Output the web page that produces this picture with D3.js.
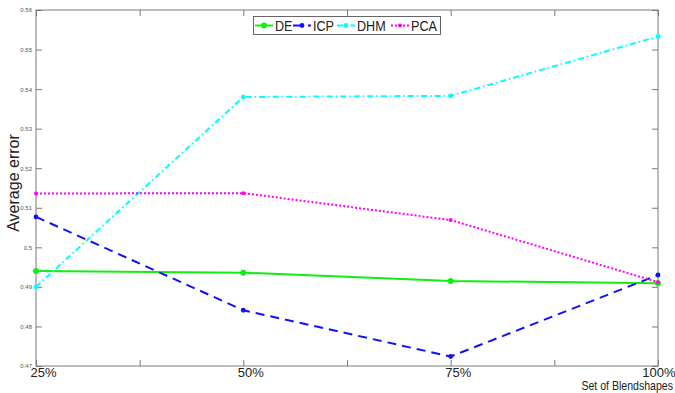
<!DOCTYPE html>
<html>
<head>
<meta charset="utf-8">
<script src="https://cdn.jsdelivr.net/npm/d3@7"></script>
<style>
  html, body { margin: 0; padding: 0; background: #fff; }
  svg { display: block; font-family: "Liberation Sans", Arial, Helvetica, sans-serif; }
</style>
</head>
<body>
<svg id="chart" width="675" height="393"></svg>
<script>
// Average error per blendshape set size, one series per method
const categories = ["25%", "50%", "75%", "100%"];
const xTickValues = [1, 1.5, 2, 2.5, 3, 3.5, 4];
const yTickValues = [0.47, 0.48, 0.49, 0.5, 0.51, 0.52, 0.53, 0.54, 0.55, 0.56];
const yTickLabels = ["0.47", "0.48", "0.49", "0.5", "0.51", "0.52", "0.53", "0.54", "0.55", "0.56"];

const seriesNames = ["DE", "ICP", "DHM", "PCA"];
const deValues  = [0.4940, 0.4936, 0.4915, 0.4909];
const icpValues = [0.5077, 0.4841, 0.4724, 0.4930];
const dhmValues = [0.4900, 0.5380, 0.5383, 0.5533];
const pcaValues = [0.5136, 0.5137, 0.5069, 0.4912];

const styles = {
  DE:  { color: "#11ee11", dash: null,            r: 3.0 },
  ICP: { color: "#1010ff", dash: "9,6",           r: 2.4 },
  DHM: { color: "#00ffff", dash: "6,3,1.5,3",     r: 2.4 },
  PCA: { color: "#ff00ff", dash: "2,2",           r: 2.0 }
};

const series = [
  { name: "DE",  values: deValues },
  { name: "ICP", values: icpValues },
  { name: "DHM", values: dhmValues },
  { name: "PCA", values: pcaValues }
];

const svg = d3.select("#chart");
const plot = { left: 36, right: 658, top: 10, bottom: 366 };
const axisColor = "#7a7a7a";

const x = d3.scaleLinear().domain([1, 4]).range([plot.left, plot.right]);
const y = d3.scaleLinear().domain([0.47, 0.56]).range([plot.bottom, plot.top]);

// Frame
svg.append("rect")
  .attr("x", plot.left).attr("y", plot.top)
  .attr("width", plot.right - plot.left).attr("height", plot.bottom - plot.top)
  .attr("fill", "none").attr("stroke", axisColor).attr("stroke-width", 1);

function styleAxis(g) {
  g.select(".domain").remove();
  g.selectAll(".tick line").attr("stroke", axisColor);
}

// Bottom axis: inward ticks, labels start just left of the tick
const bottomAxis = svg.append("g")
  .attr("transform", `translate(0,${plot.bottom})`)
  .call(d3.axisBottom(x).tickValues(xTickValues).tickSizeInner(-6).tickSizeOuter(0)
    .tickFormat(d => Number.isInteger(d) ? categories[d - 1] : ""));
styleAxis(bottomAxis);
bottomAxis.selectAll(".tick text")
  .attr("text-anchor", "start").attr("x", -6).attr("y", 10.5).attr("dy", 0)
  .attr("font-size", 13).attr("fill", "#222")
  .style("font-family", "'Liberation Sans', Arial, sans-serif");
// the last label is pulled back so it stays inside the page
bottomAxis.selectAll(".tick text")
  .filter(d => d === 4)
  .attr("text-anchor", "end").attr("x", 675 - plot.right);

// Top axis: mirrored ticks, no labels
const topAxis = svg.append("g")
  .attr("transform", `translate(0,${plot.top})`)
  .call(d3.axisTop(x).tickValues(xTickValues).tickSizeInner(-6).tickSizeOuter(0).tickFormat(""));
styleAxis(topAxis);

// Left axis with small labels
const leftAxis = svg.append("g")
  .attr("transform", `translate(${plot.left},0)`)
  .call(d3.axisLeft(y).tickValues(yTickValues).tickSizeInner(-6).tickSizeOuter(0)
    .tickFormat((d, i) => yTickLabels[i]));
styleAxis(leftAxis);
leftAxis.selectAll(".tick text")
  .attr("x", -4).attr("font-size", 6).attr("fill", "#555")
  .style("font-family", "'Liberation Sans', Arial, sans-serif");

// Right axis: mirrored ticks
const rightAxis = svg.append("g")
  .attr("transform", `translate(${plot.right},0)`)
  .call(d3.axisRight(y).tickValues(yTickValues).tickSizeInner(-6).tickSizeOuter(0).tickFormat(""));
styleAxis(rightAxis);

// Series lines and markers
const line = d3.line().x((d, i) => x(i + 1)).y(d => y(d));
series.forEach(s => {
  const st = styles[s.name];
  svg.append("path")
    .datum(s.values)
    .attr("d", line)
    .attr("fill", "none")
    .attr("stroke", st.color)
    .attr("stroke-width", 2)
    .attr("stroke-dasharray", st.dash);
  svg.selectAll(null)
    .data(s.values)
    .join("circle")
    .attr("cx", (d, i) => x(i + 1))
    .attr("cy", d => y(d))
    .attr("r", st.r)
    .attr("fill", st.color);
});

// Axis titles
svg.append("text")
  .attr("transform", `translate(19,${(plot.top + plot.bottom) / 2 - 5}) rotate(-90)`)
  .attr("text-anchor", "middle")
  .attr("font-size", 16)
  .attr("fill", "#222")
  .text("Average error");

svg.append("text")
  .attr("transform", "translate(673,390) scale(0.88,1)")
  .attr("text-anchor", "end")
  .attr("font-size", 12)
  .attr("fill", "#222")
  .text("Set of Blendshapes");

// Legend
const legend = svg.append("g");
legend.append("rect")
  .attr("x", 253.5).attr("y", 16.5).attr("width", 187).attr("height", 18)
  .attr("fill", "#fff").attr("stroke", "#666").attr("stroke-width", 1);

const legendItems = [
  { name: "DE",  lx: 255, tx: 275 },
  { name: "ICP", lx: 293, tx: 313 },
  { name: "DHM", lx: 337, tx: 357 },
  { name: "PCA", lx: 391, tx: 411 }
];
legendItems.forEach(it => {
  const st = styles[it.name];
  legend.append("line")
    .attr("x1", it.lx).attr("x2", it.lx + 18)
    .attr("y1", 25.5).attr("y2", 25.5)
    .attr("stroke", st.color).attr("stroke-width", 2)
    .attr("stroke-dasharray", st.dash);
  legend.append("circle")
    .attr("cx", it.lx + 9).attr("cy", 25.5).attr("r", st.r)
    .attr("fill", st.color);
  legend.append("text")
    .attr("transform", `translate(${it.tx},31) scale(0.84,1)`)
    .attr("font-size", 15)
    .attr("fill", "#222")
    .text(it.name);
});
</script>
</body>
</html>
